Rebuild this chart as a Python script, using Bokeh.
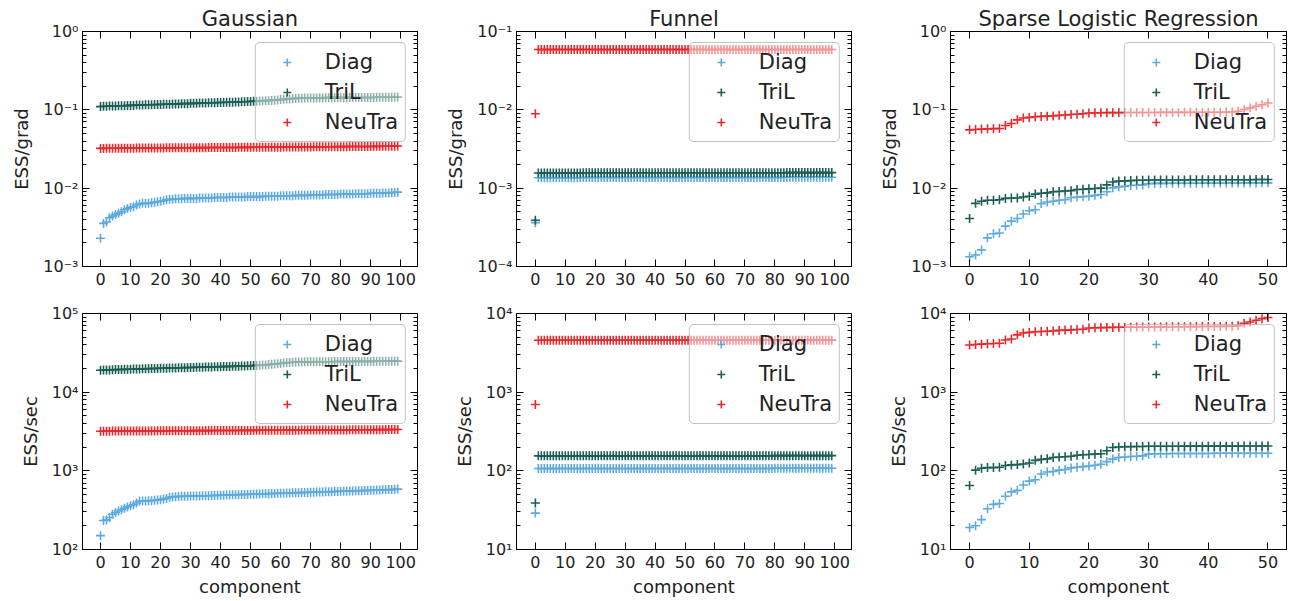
from bokeh.plotting import figure
from bokeh.layouts import gridplot
from bokeh.models import (Range1d, FixedTicker, CustomJSTickFormatter, LinearAxis,
                          LogAxis, Legend, LegendItem)
from bokeh.embed import file_html
from bokeh.resources import INLINE

FONT = "DejaVu Sans"
TXT = "#222222"
C_DIAG = "#5ea9dd"
C_TRIL = "#1b5e54"
C_NEU = "#e8282b"

series_names = ["Diag", "TriL", "NeuTra"]
titles = ["Gaussian", "Funnel", "Sparse Logistic Regression"]
ylabels = ["ESS/grad", "ESS/sec"]
xlabel = "component"

comp100 = list(range(100))
comp51 = list(range(51))

# ---------------- Gaussian ----------------
gauss_grad_diag = [
    0.00229, 0.00355, 0.0037, 0.0042, 0.0044, 0.0046, 0.0048, 0.0050, 0.0053, 0.0055,
    0.0057, 0.0058, 0.0061, 0.0063, 0.0064, 0.0064, 0.0064, 0.0065, 0.0066, 0.0067,
    0.0068, 0.0069, 0.0071, 0.0072, 0.0072, 0.0073, 0.0073, 0.0073, 0.0074, 0.0074,
    0.0074, 0.0074, 0.0074, 0.0075, 0.0075, 0.0075, 0.0075, 0.0075, 0.0076, 0.0076,
    0.0076, 0.0076, 0.0076, 0.0077, 0.0077, 0.0077, 0.0077, 0.0077, 0.0077, 0.0078,
    0.0078, 0.0078, 0.0078, 0.0078, 0.0078, 0.0079, 0.0079, 0.0079, 0.0079, 0.0079,
    0.0080, 0.0080, 0.0080, 0.0080, 0.0080, 0.0081, 0.0081, 0.0081, 0.0081, 0.0081,
    0.0082, 0.0082, 0.0082, 0.0082, 0.0082, 0.0083, 0.0083, 0.0083, 0.0083, 0.0083,
    0.0084, 0.0084, 0.0084, 0.0084, 0.0084, 0.0085, 0.0085, 0.0085, 0.0085, 0.0085,
    0.0086, 0.0086, 0.0086, 0.0086, 0.0087, 0.0087, 0.0087, 0.0088, 0.0088, 0.0089]
gauss_grad_tril = [
    0.110, 0.111, 0.111, 0.112, 0.112, 0.112, 0.113, 0.113, 0.113, 0.114,
    0.114, 0.114, 0.115, 0.115, 0.115, 0.116, 0.116, 0.116, 0.117, 0.117,
    0.117, 0.118, 0.118, 0.118, 0.119, 0.119, 0.119, 0.120, 0.120, 0.120,
    0.121, 0.121, 0.121, 0.122, 0.122, 0.122, 0.123, 0.123, 0.123, 0.124,
    0.124, 0.124, 0.125, 0.125, 0.125, 0.126, 0.126, 0.127, 0.127, 0.128,
    0.128, 0.129, 0.129, 0.130, 0.130, 0.131, 0.131, 0.132, 0.133, 0.134,
    0.135, 0.136, 0.137, 0.138, 0.139, 0.140, 0.141, 0.141, 0.142, 0.142,
    0.142, 0.142, 0.142, 0.142, 0.142, 0.143, 0.143, 0.143, 0.143, 0.143,
    0.143, 0.143, 0.143, 0.144, 0.144, 0.144, 0.144, 0.144, 0.144, 0.144,
    0.144, 0.144, 0.145, 0.145, 0.145, 0.145, 0.145, 0.145, 0.145, 0.146]
gauss_grad_neutra = [
    0.0322, 0.0322, 0.0323, 0.0323, 0.0323, 0.0323, 0.0323, 0.0324, 0.0324, 0.0324,
    0.0324, 0.0324, 0.0325, 0.0325, 0.0325, 0.0325, 0.0325, 0.0326, 0.0326, 0.0326,
    0.0326, 0.0326, 0.0327, 0.0327, 0.0327, 0.0327, 0.0328, 0.0328, 0.0328, 0.0328,
    0.0328, 0.0329, 0.0329, 0.0329, 0.0329, 0.0329, 0.0330, 0.0330, 0.0330, 0.0330,
    0.0330, 0.0331, 0.0331, 0.0331, 0.0331, 0.0331, 0.0332, 0.0332, 0.0332, 0.0332,
    0.0332, 0.0333, 0.0333, 0.0333, 0.0333, 0.0333, 0.0334, 0.0334, 0.0334, 0.0334,
    0.0334, 0.0335, 0.0335, 0.0335, 0.0335, 0.0335, 0.0336, 0.0336, 0.0336, 0.0336,
    0.0336, 0.0337, 0.0337, 0.0337, 0.0337, 0.0338, 0.0338, 0.0338, 0.0338, 0.0339,
    0.0339, 0.0339, 0.0339, 0.0340, 0.0340, 0.0340, 0.0340, 0.0341, 0.0341, 0.0341,
    0.0341, 0.0342, 0.0342, 0.0342, 0.0343, 0.0343, 0.0343, 0.0344, 0.0344, 0.0345]

gauss_sec_diag = [
    150, 234, 238, 255, 280, 295, 308, 320, 335, 348,
    360, 370, 390, 410, 413, 415, 416, 418, 422, 425,
    430, 440, 445, 462, 466, 470, 472, 474, 475, 476,
    477, 478, 479, 480, 481, 482, 483, 485, 486, 488,
    490, 491, 492, 494, 495, 497, 498, 500, 501, 502,
    504, 505, 507, 508, 510, 511, 513, 514, 516, 517,
    519, 520, 522, 523, 525, 526, 528, 529, 531, 532,
    534, 535, 537, 538, 540, 541, 543, 544, 546, 547,
    549, 550, 552, 554, 555, 557, 558, 560, 562, 564,
    565, 567, 569, 571, 573, 575, 577, 579, 582, 586]
gauss_sec_tril = [
    19000, 19100, 19150, 19200, 19300, 19350, 19400, 19450, 19500, 19550,
    19600, 19650, 19700, 19750, 19800, 19850, 19900, 19950, 20000, 20050,
    20100, 20150, 20200, 20250, 20300, 20350, 20400, 20450, 20500, 20550,
    20600, 20650, 20700, 20750, 20800, 20850, 20900, 20950, 21000, 21050,
    21100, 21150, 21200, 21250, 21300, 21350, 21400, 21450, 21500, 21600,
    21700, 21800, 21900, 22000, 22100, 22200, 22400, 22600, 22800, 23000,
    23200, 23400, 23600, 23800, 24000, 24100, 24200, 24200, 24300, 24300,
    24300, 24300, 24400, 24400, 24400, 24400, 24400, 24400, 24500, 24500,
    24500, 24500, 24500, 24500, 24500, 24600, 24600, 24600, 24600, 24600,
    24600, 24600, 24700, 24700, 24700, 24700, 24700, 24800, 24800, 24800]
gauss_sec_neutra = [
    3190, 3192, 3194, 3196, 3198, 3200, 3201, 3203, 3205, 3206,
    3208, 3210, 3211, 3213, 3214, 3216, 3217, 3219, 3220, 3222,
    3223, 3225, 3226, 3228, 3229, 3231, 3232, 3234, 3235, 3237,
    3238, 3240, 3241, 3243, 3244, 3246, 3247, 3249, 3250, 3252,
    3253, 3255, 3256, 3258, 3259, 3261, 3262, 3264, 3265, 3267,
    3268, 3270, 3271, 3273, 3274, 3276, 3277, 3279, 3280, 3282,
    3283, 3285, 3286, 3288, 3289, 3291, 3292, 3294, 3295, 3297,
    3298, 3300, 3301, 3303, 3304, 3306, 3307, 3309, 3310, 3312,
    3313, 3315, 3316, 3318, 3320, 3322, 3324, 3326, 3328, 3330,
    3332, 3334, 3336, 3338, 3340, 3342, 3345, 3348, 3352, 3358]

# ---------------- Funnel ----------------
funnel_grad_diag = [
    0.000363, 0.00136, 0.00136, 0.00136, 0.00136, 0.00136, 0.00136, 0.00136, 0.00136, 0.00136,
    0.00136, 0.00136, 0.00136, 0.00136, 0.00136, 0.00136, 0.00137, 0.00137, 0.00137, 0.00137,
    0.00137, 0.00137, 0.00137, 0.00137, 0.00137, 0.00137, 0.00137, 0.00137, 0.00137, 0.00137,
    0.00137, 0.00137, 0.00137, 0.00137, 0.00137, 0.00137, 0.00137, 0.00137, 0.00137, 0.00137,
    0.00137, 0.00137, 0.00137, 0.00137, 0.00137, 0.00137, 0.00137, 0.00137, 0.00137, 0.00137,
    0.00137, 0.00137, 0.00137, 0.00137, 0.00137, 0.00137, 0.00137, 0.00137, 0.00137, 0.00137,
    0.00137, 0.00137, 0.00137, 0.00137, 0.00137, 0.00137, 0.00137, 0.00137, 0.00137, 0.00137,
    0.00137, 0.00137, 0.00137, 0.00137, 0.00137, 0.00137, 0.00137, 0.00137, 0.00137, 0.00137,
    0.00137, 0.00137, 0.00137, 0.00137, 0.00138, 0.00138, 0.00138, 0.00138, 0.00138, 0.00138,
    0.00138, 0.00138, 0.00138, 0.00138, 0.00138, 0.00138, 0.00138, 0.00138, 0.00138, 0.00138]
funnel_grad_tril = [
    0.00039, 0.00156, 0.00156, 0.00156, 0.00156, 0.00156, 0.00156, 0.00156, 0.00156, 0.00156,
    0.00156, 0.00156, 0.00156, 0.00156, 0.00156, 0.00156, 0.00157, 0.00157, 0.00157, 0.00157,
    0.00157, 0.00157, 0.00157, 0.00157, 0.00157, 0.00157, 0.00157, 0.00157, 0.00157, 0.00157,
    0.00157, 0.00157, 0.00157, 0.00157, 0.00157, 0.00157, 0.00157, 0.00157, 0.00157, 0.00157,
    0.00157, 0.00157, 0.00157, 0.00157, 0.00157, 0.00157, 0.00157, 0.00157, 0.00157, 0.00157,
    0.00157, 0.00157, 0.00157, 0.00157, 0.00157, 0.00157, 0.00157, 0.00157, 0.00157, 0.00157,
    0.00157, 0.00157, 0.00157, 0.00157, 0.00157, 0.00157, 0.00157, 0.00157, 0.00157, 0.00157,
    0.00157, 0.00157, 0.00157, 0.00157, 0.00157, 0.00157, 0.00157, 0.00157, 0.00157, 0.00157,
    0.00157, 0.00157, 0.00157, 0.00157, 0.00158, 0.00158, 0.00158, 0.00158, 0.00158, 0.00158,
    0.00158, 0.00158, 0.00158, 0.00158, 0.00158, 0.00158, 0.00158, 0.00158, 0.00158, 0.00158]
funnel_grad_neutra = [
    0.0089, 0.0588, 0.0588, 0.0588, 0.0588, 0.0588, 0.0588, 0.0588, 0.0588, 0.0588,
    0.0588, 0.0588, 0.0588, 0.0588, 0.0588, 0.0588, 0.0589, 0.0589, 0.0589, 0.0589,
    0.0589, 0.0589, 0.0589, 0.0589, 0.0589, 0.0589, 0.0589, 0.0589, 0.0589, 0.0589,
    0.0589, 0.0589, 0.0589, 0.0589, 0.0589, 0.0589, 0.0589, 0.0589, 0.0589, 0.0589,
    0.0589, 0.0589, 0.0589, 0.0589, 0.0589, 0.0589, 0.0589, 0.0589, 0.0589, 0.0589,
    0.0589, 0.0589, 0.0589, 0.0589, 0.0589, 0.0589, 0.0589, 0.0589, 0.0589, 0.0589,
    0.0589, 0.0589, 0.0589, 0.0589, 0.0589, 0.0589, 0.0589, 0.0589, 0.0589, 0.0589,
    0.0589, 0.0589, 0.0589, 0.0589, 0.0589, 0.0589, 0.0589, 0.0589, 0.0589, 0.0589,
    0.0589, 0.0589, 0.0589, 0.0589, 0.0590, 0.0590, 0.0590, 0.0590, 0.0590, 0.0590,
    0.0590, 0.0590, 0.0590, 0.0590, 0.0590, 0.0590, 0.0590, 0.0590, 0.0590, 0.0590]

funnel_sec_diag = [
    29, 107, 107, 107, 107, 107, 107, 107, 107, 107,
    107, 107, 107, 107, 107, 107, 107, 107, 107, 107,
    107, 107, 107, 107, 107, 107, 107, 107, 107, 107,
    107, 107, 107, 107, 107, 107, 107, 107, 107, 107,
    107, 107, 107, 107, 107, 107, 107, 107, 107, 107,
    107, 107, 107, 107, 107, 107, 107, 107, 107, 107,
    107, 107, 107, 107, 107, 107, 107, 107, 107, 107,
    107, 107, 107, 107, 107, 107, 107, 107, 107, 107,
    108, 108, 108, 108, 108, 108, 108, 108, 108, 108,
    108, 108, 108, 108, 108, 108, 108, 108, 108, 108]
funnel_sec_tril = [
    39, 155, 155, 155, 155, 155, 155, 155, 155, 155,
    155, 155, 155, 155, 155, 155, 155, 155, 155, 155,
    155, 155, 155, 155, 155, 155, 155, 155, 155, 155,
    155, 155, 155, 155, 155, 155, 155, 155, 155, 155,
    155, 155, 155, 155, 155, 155, 155, 155, 155, 155,
    155, 155, 155, 155, 155, 155, 155, 155, 155, 155,
    155, 155, 155, 155, 155, 155, 155, 155, 155, 155,
    155, 155, 155, 155, 155, 155, 155, 155, 155, 155,
    156, 156, 156, 156, 156, 156, 156, 156, 156, 156,
    156, 156, 156, 156, 156, 156, 156, 156, 156, 156]
funnel_sec_neutra = [
    697, 4570, 4570, 4570, 4570, 4570, 4570, 4570, 4570, 4570,
    4570, 4570, 4570, 4570, 4570, 4570, 4575, 4575, 4575, 4575,
    4575, 4575, 4575, 4575, 4575, 4575, 4575, 4575, 4575, 4575,
    4575, 4575, 4575, 4575, 4575, 4575, 4575, 4575, 4575, 4575,
    4575, 4575, 4575, 4575, 4575, 4575, 4575, 4575, 4575, 4575,
    4580, 4580, 4580, 4580, 4580, 4580, 4580, 4580, 4580, 4580,
    4580, 4580, 4580, 4580, 4580, 4580, 4580, 4580, 4580, 4580,
    4580, 4580, 4580, 4580, 4580, 4580, 4580, 4580, 4580, 4580,
    4585, 4585, 4585, 4585, 4585, 4585, 4585, 4585, 4585, 4585,
    4585, 4585, 4585, 4585, 4585, 4585, 4585, 4585, 4585, 4585]

# ---------------- Sparse Logistic Regression ----------------
slr_grad_diag = [
    0.00133, 0.00140, 0.00163, 0.00232, 0.00262, 0.00268, 0.00328, 0.00380, 0.00410, 0.00467,
    0.00515, 0.00530, 0.00635, 0.00665, 0.00680, 0.00700, 0.00710, 0.00755, 0.00770, 0.00780,
    0.00790, 0.00810, 0.00830, 0.00900, 0.01010, 0.01040, 0.01060, 0.01080, 0.01090, 0.01100,
    0.01140, 0.01150, 0.01150, 0.01152, 0.01153, 0.01155, 0.01156, 0.01157, 0.01158, 0.01159,
    0.01160, 0.01161, 0.01162, 0.01163, 0.01164, 0.01165, 0.01166, 0.01167, 0.01168, 0.01169,
    0.01170]
slr_grad_tril = [
    0.0041, 0.0064, 0.0068, 0.0070, 0.0070, 0.0071, 0.0074, 0.0075, 0.0075, 0.0077,
    0.0079, 0.0084, 0.0086, 0.0087, 0.0090, 0.0091, 0.0092, 0.0093, 0.0096, 0.0097,
    0.0098, 0.0099, 0.0100, 0.0110, 0.0120, 0.0123, 0.0124, 0.0125, 0.0126, 0.0126,
    0.0127, 0.0127, 0.0127, 0.0127, 0.0127, 0.0127, 0.0127, 0.0128, 0.0128, 0.0128,
    0.0128, 0.0128, 0.0128, 0.0128, 0.0128, 0.0128, 0.0128, 0.0128, 0.0129, 0.0129,
    0.0129]
slr_grad_neutra = [
    0.0555, 0.0562, 0.0568, 0.0572, 0.0575, 0.0578, 0.0630, 0.0670, 0.0745, 0.0785,
    0.0800, 0.0815, 0.0825, 0.0830, 0.0835, 0.0850, 0.0860, 0.0870, 0.0880, 0.0890,
    0.0910, 0.0915, 0.0918, 0.0920, 0.0921, 0.0922, 0.0923, 0.0924, 0.0925, 0.0925,
    0.0926, 0.0926, 0.0927, 0.0927, 0.0928, 0.0928, 0.0929, 0.0929, 0.0930, 0.0930,
    0.0931, 0.0932, 0.0933, 0.0935, 0.0937, 0.0960, 0.1010, 0.1060, 0.1110, 0.1160,
    0.1220]

slr_sec_diag = [
    19.0, 20.0, 24.0, 33.0, 37.5, 38.5, 47.5, 54.0, 56.5, 66.0,
    74.0, 77.0, 91.0, 96.5, 98.0, 102, 104, 109, 111, 113,
    115, 118, 121, 131, 141, 148, 150, 152, 153, 155,
    163, 165, 165, 165, 166, 166, 166, 166, 166, 166,
    166, 167, 167, 167, 167, 167, 167, 167, 167, 167,
    167]
slr_sec_tril = [
    65, 102, 108, 110, 110, 111, 117, 119, 120, 122,
    126, 136, 140, 142, 148, 150, 151, 153, 158, 160,
    161, 163, 165, 180, 198, 201, 202, 203, 204, 204,
    205, 205, 205, 205, 205, 205, 206, 206, 206, 206,
    206, 206, 206, 206, 206, 206, 207, 207, 207, 207,
    207]
slr_sec_neutra = [
    3980, 4030, 4080, 4120, 4150, 4180, 4600, 4750, 5350, 5650,
    5750, 5850, 5900, 5950, 6000, 6100, 6150, 6200, 6250, 6300,
    6550, 6600, 6620, 6640, 6660, 6680, 6700, 6710, 6720, 6730,
    6740, 6750, 6760, 6770, 6780, 6790, 6800, 6810, 6820, 6830,
    6840, 6850, 6860, 6870, 6880, 7000, 7500, 7800, 8200, 8600,
    8900]

xticks100 = [0, 10, 20, 30, 40, 50, 60, 70, 80, 90, 100]
xticks50 = [0, 10, 20, 30, 40, 50]

SUP = r"""
const sup = {'-':'\u207b','0':'\u2070','1':'\u00b9','2':'\u00b2','3':'\u00b3',
             '4':'\u2074','5':'\u2075','6':'\u2076','7':'\u2077','8':'\u2078','9':'\u2079'};
const e = Math.round(Math.log10(tick));
return '10' + String(e).split('').map(c => sup[c]).join('');
"""
EMPTY = "return ''"


def decade_ticks(lo, hi):
    major = [10.0 ** e for e in range(lo, hi + 1)]
    minor = [m * 10.0 ** e for e in range(lo, hi) for m in range(2, 10)]
    return major, minor


def style_axis(ax, labels=True):
    ax.axis_line_color = "black"
    ax.axis_line_width = 1
    ax.major_tick_in = 7
    ax.major_tick_out = 0
    ax.minor_tick_in = 4
    ax.minor_tick_out = 0
    ax.major_tick_line_color = "black"
    ax.minor_tick_line_color = "black"
    ax.major_label_text_font = FONT
    ax.major_label_text_color = TXT
    if labels:
        ax.major_label_text_font_size = "16px"
    else:
        ax.major_label_text_font_size = "0px"
        ax.major_label_standoff = 0
    ax.axis_label_text_font = FONT
    ax.axis_label_text_font_size = "18px"
    ax.axis_label_text_font_style = "normal"
    ax.axis_label_text_color = TXT


def panel(title, ylabel, show_xlabel, x, data, xr, xt, ylo, yhi,
          ml, mr, mt, mb, fw, fh):
    kw = dict(frame_width=fw, frame_height=fh,
              x_range=Range1d(*xr), y_range=Range1d(10.0 ** ylo, 10.0 ** yhi),
              y_axis_type="log", output_backend="svg", toolbar_location=None,
              min_border_left=ml, min_border_right=mr,
              min_border_top=mt, min_border_bottom=mb)
    if title:
        kw["title"] = title
    p = figure(**kw)
    p.grid.visible = False
    p.outline_line_color = "black"
    p.outline_line_width = 1
    p.background_fill_color = "white"
    p.border_fill_color = "white"
    if title:
        p.title.align = "center"
        p.title.text_font = FONT
        p.title.text_font_size = "21px"
        p.title.text_font_style = "normal"
        p.title.text_color = TXT
        p.title.standoff = 2

    major, minor = decade_ticks(ylo, yhi)
    p.yaxis.ticker = FixedTicker(ticks=major, minor_ticks=minor)
    p.yaxis.formatter = CustomJSTickFormatter(code=SUP)
    p.yaxis.major_label_standoff = 4
    p.yaxis.axis_label = ylabel
    p.yaxis.axis_label_standoff = 8
    p.xaxis.ticker = FixedTicker(ticks=xt)
    p.xaxis.major_label_standoff = 6
    if show_xlabel:
        p.xaxis.axis_label = xlabel
        p.xaxis.axis_label_standoff = 5
    for ax in p.xaxis + p.yaxis:
        style_axis(ax)

    top = LinearAxis(ticker=FixedTicker(ticks=xt),
                     formatter=CustomJSTickFormatter(code=EMPTY))
    style_axis(top, labels=False)
    p.add_layout(top, "above")
    right = LogAxis(ticker=FixedTicker(ticks=major, minor_ticks=minor),
                    formatter=CustomJSTickFormatter(code=EMPTY))
    style_axis(right, labels=False)
    p.add_layout(right, "right")

    items = []
    for name, ys, color in zip(series_names, data, [C_DIAG, C_TRIL, C_NEU]):
        r = p.scatter(x=x, y=ys, marker="cross", size=9,
                      line_color=color, line_width=1.6)
        items.append(LegendItem(label=name, renderers=[r]))
    leg = Legend(items=items, location="top_right", margin=11, padding=7,
                 spacing=6, glyph_width=48, glyph_height=20, label_standoff=14,
                 label_text_font=FONT, label_text_font_size="21px",
                 label_text_color=TXT, border_line_color="#888888",
                 border_line_width=1.5, border_radius=5,
                 background_fill_color="white", background_fill_alpha=0.5)
    p.add_layout(leg)
    return p


cols = [
    dict(ml=82, mr=20, fw=335),
    dict(ml=79, mr=20, fw=335),
    dict(ml=79, mr=6, fw=336),
]
top_row = dict(mt=31, mb=30, fh=235)
bot_row = dict(mt=17, mb=50, fh=236)

p1 = panel(titles[0], ylabels[0], False, comp100,
           [gauss_grad_diag, gauss_grad_tril, gauss_grad_neutra],
           (-6, 105.6), xticks100, -3, 0, **cols[0], **top_row)
p2 = panel(titles[1], ylabels[0], False, comp100,
           [funnel_grad_diag, funnel_grad_tril, funnel_grad_neutra],
           (-6.3, 105.6), xticks100, -4, -1, **cols[1], **top_row)
p3 = panel(titles[2], ylabels[0], False, comp51,
           [slr_grad_diag, slr_grad_tril, slr_grad_neutra],
           (-3.2, 53.1), xticks50, -3, 0, **cols[2], **top_row)
p4 = panel(None, ylabels[1], True, comp100,
           [gauss_sec_diag, gauss_sec_tril, gauss_sec_neutra],
           (-6, 105.6), xticks100, 2, 5, **cols[0], **bot_row)
p5 = panel(None, ylabels[1], True, comp100,
           [funnel_sec_diag, funnel_sec_tril, funnel_sec_neutra],
           (-6.3, 105.6), xticks100, 1, 4, **cols[1], **bot_row)
p6 = panel(None, ylabels[1], True, comp51,
           [slr_sec_diag, slr_sec_tril, slr_sec_neutra],
           (-3.2, 53.1), xticks50, 1, 4, **cols[2], **bot_row)

grid = gridplot([[p1, p2, p3], [p4, p5, p6]], toolbar_location=None)

open("out.html", "w").write(file_html(grid, INLINE))
